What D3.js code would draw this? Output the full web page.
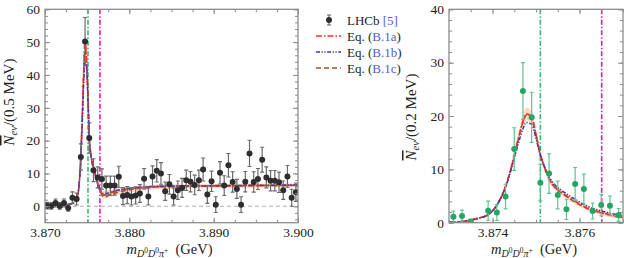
<!DOCTYPE html>
<html>
<head>
<meta charset="utf-8">
<script src="https://cdn.jsdelivr.net/npm/d3@7"></script>
<style>
  body { margin: 0; background: #fff; }
  svg { display: block; font-family: "Liberation Serif", serif; }
</style>
</head>
<body>
<svg id="chart" width="624" height="258"></svg>
<script>
// ---- data ----
// left panel: LHCb, 0.5 MeV bins from 3.870 GeV
const leftBinStart = 3.87025
const leftBinWidth = 0.0005
const leftCounts = [0.2, 0.1, 1.0, 0.1, 1.0, -0.5, 2.6, 2.2, 15.0, 50.2,
  20.8, 11.0, 8.8, 8.3, 6.3, 6.3, 6.3, 9.0, 3.1, 3.4,
  3.0, 3.3, 3.9, 8.4, 3.0, 9.1, 10.8, 10.0, 4.6, 6.7,
  3.0, 4.9, 5.6, 7.9, 7.5, 6.5, 7.9, 11.2, 3.6, 7.6,
  0.5, 10.2, 6.3, 12.5, 7.4, 5.3, 0.5, 7.5, 16.1, 7.4,
  8.3, 14.2, 8.8, 7.8, 7.8, 7.3, 4.9, 9.1, 2.6, 4.3]
const leftErrors = [1.0, 1.0, 1.2, 1.0, 1.2, 1.0, 1.8, 1.8, 4.0, 7.3,
  4.6, 3.5, 3.2, 3.1, 2.9, 2.9, 2.9, 3.2, 2.6, 2.6,
  2.6, 2.6, 2.7, 3.1, 2.6, 3.2, 3.4, 3.3, 2.8, 3.0,
  2.6, 2.8, 2.9, 3.1, 3.1, 3.0, 3.1, 3.5, 2.7, 3.1,
  2.4, 3.4, 3.0, 3.6, 3.1, 2.9, 2.4, 3.1, 4.0, 3.1,
  3.2, 3.8, 3.2, 3.1, 3.1, 3.1, 2.8, 3.3, 2.6, 2.8]

// right panel: 0.2 MeV bins (one bin hidden below zero)
const rightMass = [3.8731, 3.8733, 3.8735, 3.8739, 3.8741, 3.8743, 3.8745, 3.8747, 3.8749, 3.8751,
  3.8753, 3.8755, 3.8757, 3.8759, 3.8761, 3.8763, 3.8765, 3.8767, 3.8769]
const rightCounts = [1.1, 1.25, 0.2, 2.25, 1.9, 4.9, 13.8, 24.7, 19.75, 7.5,
  9.2, 5.2, 2.5, 7.25, 6.3, 2.2, 3.3, 3.2, 1.45]
const rightErrors = [1.1, 1.1, 0.5, 1.8, 1.5, 2.3, 4.0, 5.3, 4.7, 3.4,
  3.7, 2.6, 1.9, 3.1, 2.8, 1.5, 2.0, 1.8, 1.2]

// fit curves [mass, N]
const leftRed = [[3.8700,0.2],[3.8710,0.3],[3.8720,0.4],[3.8730,0.7],[3.8735,1.3],[3.8738,2.6],[3.8740,5.5],
  [3.8742,13],[3.8744,26],[3.8746,42],[3.87475,50.3],[3.8749,46],[3.8751,33],[3.87525,21],[3.8754,16.5],
  [3.8758,11.3],[3.8762,7.2],[3.8766,4.6],[3.8769,3.4],[3.8772,3.4],[3.8778,4.1],[3.8790,4.9],[3.8805,5.5],
  [3.8825,5.9],[3.885,6.1],[3.890,6.2],[3.895,6.3],[3.900,6.4]]
const leftBlue = [[3.8700,0.2],[3.8710,0.3],[3.8720,0.4],[3.8730,0.7],[3.8735,1.3],[3.8738,2.6],[3.8740,5.3],
  [3.8742,12],[3.8744,24],[3.8746,38],[3.87475,44.5],[3.8749,43],[3.8751,32],[3.87525,21],[3.8754,16.6],
  [3.8758,11.5],[3.8762,7.5],[3.8766,5.0],[3.8769,3.9],[3.8772,3.9],[3.8778,4.4],[3.8790,5.1],[3.8805,5.6],
  [3.8825,6.0],[3.885,6.2],[3.890,6.3],[3.895,6.4],[3.900,6.5]]
const leftBrown = [[3.8700,0.2],[3.8710,0.3],[3.8720,0.4],[3.8730,0.7],[3.8735,1.3],[3.8738,2.6],[3.8740,5.5],
  [3.8742,13],[3.8744,26],[3.8746,41],[3.87475,49],[3.8749,45],[3.8751,33],[3.87525,21],[3.8754,16.3],
  [3.8758,11],[3.8762,6.9],[3.8766,4.2],[3.8769,2.9],[3.8772,2.9],[3.8778,3.6],[3.8790,4.5],[3.8805,5.2],
  [3.8825,5.8],[3.885,6.0],[3.890,6.2],[3.895,6.3],[3.900,6.4]]
// uncertainty band [mass, low, high]
const leftBand = [[3.870,0,0.5],[3.873,0.4,1.0],[3.8738,2,3.2],[3.8742,11.5,14.5],[3.8746,39,45],[3.87475,47,53],
  [3.8749,43,49],[3.8751,30,36],[3.8754,15,18],[3.8758,10.3,12.3],[3.8762,6.3,8.1],[3.8766,3.6,5.4],
  [3.8769,2.3,4.6],[3.8775,2.6,4.9],[3.879,3.6,5.8],[3.881,4.6,6.2],[3.884,5.3,6.6],[3.890,5.6,6.8],[3.900,5.8,7.0]]

const rightRed = [[3.8730,0.05],[3.8732,0.15],[3.8735,0.5],[3.8737,0.9],[3.8739,1.5],[3.8741,3.3],[3.8743,6.8],
  [3.8745,12.5],[3.8746,16],[3.8747,19],[3.87478,20.4],[3.8749,19.7],[3.8750,16.5],[3.8751,12.8],[3.8752,10.3],
  [3.8753,8.3],[3.8754,7.0],[3.8756,5.6],[3.8758,4.5],[3.8760,3.5],[3.8762,2.6],[3.8765,1.9],[3.8767,1.5],[3.8770,1.0]]
const rightBlue = [[3.8730,0.05],[3.8732,0.15],[3.8735,0.5],[3.8737,0.9],[3.8739,1.5],[3.8741,3.3],[3.8743,6.6],
  [3.8745,12],[3.8746,15],[3.8747,17.6],[3.87478,18.8],[3.8749,18.4],[3.8750,15.8],[3.8751,12.6],[3.8752,10.4],
  [3.8753,8.6],[3.8754,7.4],[3.8756,6.0],[3.8758,4.9],[3.8760,3.9],[3.8762,3.0],[3.8765,2.2],[3.8767,1.8],[3.8770,1.3]]
const rightBrown = [[3.8730,0.05],[3.8732,0.15],[3.8735,0.5],[3.8737,0.9],[3.8739,1.5],[3.8741,3.3],[3.8743,6.8],
  [3.8745,12.4],[3.8746,15.8],[3.8747,18.8],[3.87478,20.2],[3.8749,19.6],[3.8750,16.5],[3.8751,12.8],[3.8752,10.2],
  [3.8753,8.2],[3.8754,6.9],[3.8756,5.5],[3.8758,4.4],[3.8760,3.4],[3.8762,2.6],[3.8765,1.8],[3.8767,1.4],[3.8770,0.9]]
const rightBand = [[3.8730,0,0.2],[3.8735,0.3,0.7],[3.8739,1.2,1.8],[3.8743,6.2,7.4],[3.8746,15,17],[3.87478,19.2,21.6],
  [3.8749,18.6,20.8],[3.8751,12,13.6],[3.8753,7.7,8.9],[3.8756,5.1,6.1],[3.8760,3.0,4.0],[3.8765,1.5,2.3],[3.8770,0.6,1.4]]

// thresholds (GeV)
const thresholdGreen = 3.87510
const thresholdMagenta = 3.87651

const legendItems = [
  { label: "LHCb ", ref: "[5]", kind: "data" },
  { label: "Eq. (", ref: "B.1a", tail: ")", kind: "red" },
  { label: "Eq. (", ref: "B.1b", tail: ")", kind: "blue" },
  { label: "Eq. (", ref: "B.1c", tail: ")", kind: "brown" }
]

// ---- styles ----
const frameColour = '#8c8c8c'
const lineStyles = {
  red:   { stroke: '#ff2a2a', dash: '6,2,1.5,2', width: 1.7 },
  blue:  { stroke: '#3b3bb0', dash: '4,1.5,1.3,1.5,1.3,1.5', width: 1.5 },
  brown: { stroke: '#a0522d', dash: '5,3', width: 1.5 }
}
const refColour = '#5a5ad0'

const svg = d3.select('#chart')

function drawPanel(opt) {
  const x = d3.scaleLinear().domain(opt.xDomain).range([opt.left, opt.right])
  const y = d3.scaleLinear().domain(opt.yDomain).range([opt.bottom, opt.top])
  const g = svg.append('g')

  const clipId = 'clip-' + opt.id
  svg.append('clipPath').attr('id', clipId)
    .append('rect').attr('x', opt.left).attr('y', opt.top)
    .attr('width', opt.right - opt.left).attr('height', opt.bottom - opt.top)

  const plot = g.append('g').attr('clip-path', `url(#${clipId})`)

  // zero line
  if (opt.yDomain[0] < 0) {
    plot.append('line')
      .attr('x1', opt.left).attr('x2', opt.right)
      .attr('y1', y(0)).attr('y2', y(0))
      .attr('stroke', '#b0b0b0').attr('stroke-width', 1).attr('stroke-dasharray', '4,3')
  }

  // band
  plot.append('path')
    .datum(opt.band)
    .attr('d', d3.area().x(d => x(d[0])).y0(d => y(d[1])).y1(d => y(d[2])).curve(d3.curveMonotoneX))
    .attr('fill', '#f7b98f').attr('opacity', 0.55)

  // thresholds
  const vlines = [[thresholdGreen, '#37b677'], [thresholdMagenta, '#f0189a']]
  vlines.forEach(([m, c]) => {
    plot.append('line')
      .attr('x1', x(m)).attr('x2', x(m)).attr('y1', opt.top).attr('y2', opt.bottom)
      .attr('stroke', c).attr('stroke-width', 1.6).attr('stroke-dasharray', '5,2,1.5,2')
  })

  // data points: error bars
  const pts = plot.append('g')
  opt.points.forEach(p => {
    pts.append('line')
      .attr('x1', x(p.m)).attr('x2', x(p.m))
      .attr('y1', y(p.v - p.e)).attr('y2', y(p.v + p.e))
      .attr('stroke', opt.barColour).attr('stroke-width', 1.2)
    ;[p.v - p.e, p.v + p.e].forEach(v => {
      pts.append('line')
        .attr('x1', x(p.m) - 2).attr('x2', x(p.m) + 2)
        .attr('y1', y(v)).attr('y2', y(v))
        .attr('stroke', opt.barColour).attr('stroke-width', 1.1)
    })
  })

  // curves
  const line = d3.line().x(d => x(d[0])).y(d => y(d[1])).curve(d3.curveMonotoneX)
  ;[['brown', opt.brown], ['red', opt.red], ['blue', opt.blue]].forEach(([k, data]) => {
    plot.append('path').datum(data).attr('d', line)
      .attr('fill', 'none').attr('stroke', lineStyles[k].stroke)
      .attr('stroke-width', lineStyles[k].width).attr('stroke-dasharray', lineStyles[k].dash)
  })

  pts.raise()
  pts.selectAll('circle').data(opt.points).join('circle')
    .attr('cx', d => x(d.m)).attr('cy', d => y(d.v)).attr('r', 3)
    .attr('fill', opt.pointColour)

  // axes with inward ticks on all four sides
  const styleAxis = sel => {
    sel.select('.domain').remove()
    sel.selectAll('.tick line').attr('stroke', frameColour).attr('stroke-width', 1)
    sel.selectAll('text').attr('font-size', '13.5px').attr('fill', '#222')
      .attr('font-family', '"Liberation Serif", serif')
  }
  const minorX = d3.range(opt.xDomain[0], opt.xDomain[1] + 1e-9, opt.xMinor)
  const minorY = d3.range(opt.yMinorStart, opt.yDomain[1] + 1e-9, opt.yMinor)

  g.append('g').attr('transform', `translate(0,${opt.bottom})`)
    .call(d3.axisBottom(x).tickValues(minorX).tickSize(-3).tickFormat('')).call(styleAxis)
  g.append('g').attr('transform', `translate(0,${opt.top})`)
    .call(d3.axisTop(x).tickValues(minorX).tickSize(-3).tickFormat('')).call(styleAxis)
  g.append('g').attr('transform', `translate(0,${opt.bottom})`)
    .call(d3.axisBottom(x).tickValues(opt.xTicks).tickSize(-5).tickPadding(5).tickFormat(d3.format('.3f'))).call(styleAxis)
  g.append('g').attr('transform', `translate(0,${opt.top})`)
    .call(d3.axisTop(x).tickValues(opt.xTicks).tickSize(-5).tickFormat('')).call(styleAxis)

  g.append('g').attr('transform', `translate(${opt.left},0)`)
    .call(d3.axisLeft(y).tickValues(minorY).tickSize(-3).tickFormat('')).call(styleAxis)
  g.append('g').attr('transform', `translate(${opt.right},0)`)
    .call(d3.axisRight(y).tickValues(minorY).tickSize(-3).tickFormat('')).call(styleAxis)
  g.append('g').attr('transform', `translate(${opt.left},0)`)
    .call(d3.axisLeft(y).tickValues(opt.yTicks).tickSize(-5).tickPadding(5)).call(styleAxis)
  g.append('g').attr('transform', `translate(${opt.right},0)`)
    .call(d3.axisRight(y).tickValues(opt.yTicks).tickSize(-5).tickFormat('')).call(styleAxis)

  // frame
  g.append('rect')
    .attr('x', opt.left).attr('y', opt.top)
    .attr('width', opt.right - opt.left).attr('height', opt.bottom - opt.top)
    .attr('fill', 'none').attr('stroke', frameColour).attr('stroke-width', 1.3)

  // y label
  const yl = g.append('text')
    .attr('transform', `translate(${opt.yLabelX},${opt.yLabelY}) rotate(-90)`)
    .attr('text-anchor', 'middle').attr('font-size', '15px').attr('fill', '#222')
  yl.append('tspan').attr('font-style', 'italic').attr('text-decoration', 'overline').text('N')
  yl.append('tspan').attr('font-style', 'italic').attr('font-size', '10.5px').attr('dy', 3).text('ev')
  yl.append('tspan').attr('dy', -3).text('/(' + opt.binLabel + ')')

  // x label
  const xl = g.append('text')
    .attr('x', (opt.left + opt.right) / 2 - 2).attr('y', 253.5)
    .attr('text-anchor', 'middle').attr('font-size', '14.5px').attr('fill', '#222')
  xl.append('tspan').attr('font-style', 'italic').text('m')
  xl.append('tspan').attr('font-style', 'italic').attr('font-size', '10px').attr('dy', 3).text('D')
  xl.append('tspan').attr('font-size', '7.5px').attr('dy', -4).text('0')
  xl.append('tspan').attr('font-style', 'italic').attr('font-size', '10px').attr('dy', 4).text('D')
  xl.append('tspan').attr('font-size', '7.5px').attr('dy', -4).text('0')
  xl.append('tspan').attr('font-style', 'italic').attr('font-size', '10px').attr('dy', 4).text('π')
  xl.append('tspan').attr('font-size', '7.5px').attr('dy', -4).text('+')
  xl.append('tspan').attr('dy', 1).text('\u2002(GeV)')
}

drawPanel({
  id: 'left', left: 45, right: 298, top: 9.3, bottom: 222.7,
  xDomain: [3.870, 3.900], yDomain: [-5, 60],
  xTicks: [3.870, 3.880, 3.890, 3.900], xMinor: 0.0025,
  yTicks: [0, 10, 20, 30, 40, 50, 60], yMinor: 2, yMinorStart: -4,
  points: leftCounts.map((v, i) => ({ m: leftBinStart + i * leftBinWidth, v, e: leftErrors[i] })),
  pointColour: '#2e2e2e', barColour: '#6a6a6a',
  red: leftRed, blue: leftBlue, brown: leftBrown, band: leftBand,
  yLabelX: 14, yLabelY: 102, binLabel: '0.5 MeV'
})

drawPanel({
  id: 'right', left: 449, right: 623, top: 9.3, bottom: 222.7,
  xDomain: [3.873, 3.877], yDomain: [0, 40],
  xTicks: [3.874, 3.876], xMinor: 0.0005,
  yTicks: [0, 10, 20, 30, 40], yMinor: 2, yMinorStart: 0,
  points: rightMass.map((m, i) => ({ m, v: rightCounts[i], e: rightErrors[i] })),
  pointColour: '#22a666', barColour: '#62c290',
  red: rightRed, blue: rightBlue, brown: rightBrown, band: rightBand,
  yLabelX: 416, yLabelY: 117, binLabel: '0.2 MeV'
})

// ---- legend ----
const legend = svg.append('g').attr('transform', 'translate(316,20)')
legendItems.forEach((item, i) => {
  const row = legend.append('g').attr('transform', `translate(0,${i * 16})`)
  if (item.kind === 'data') {
    row.append('line').attr('x1', 13).attr('x2', 13).attr('y1', -5).attr('y2', 5)
      .attr('stroke', '#6a6a6a').attr('stroke-width', 1.2)
    ;[-5, 5].forEach(v => row.append('line').attr('x1', 11).attr('x2', 15).attr('y1', v).attr('y2', v)
      .attr('stroke', '#6a6a6a').attr('stroke-width', 1.1))
    row.append('circle').attr('cx', 13).attr('cy', 0).attr('r', 3).attr('fill', '#2e2e2e')
  } else {
    const s = lineStyles[item.kind]
    row.append('line').attr('x1', 0).attr('x2', 25).attr('y1', 0).attr('y2', 0)
      .attr('stroke', s.stroke).attr('stroke-width', s.width).attr('stroke-dasharray', s.dash)
  }
  const t = row.append('text').attr('x', 31).attr('y', 4.5).attr('font-size', '13px').attr('fill', '#222')
  t.append('tspan').text(item.label)
  t.append('tspan').attr('fill', refColour).text(item.ref)
  if (item.tail) t.append('tspan').text(item.tail)
})
</script>
</body>
</html>
